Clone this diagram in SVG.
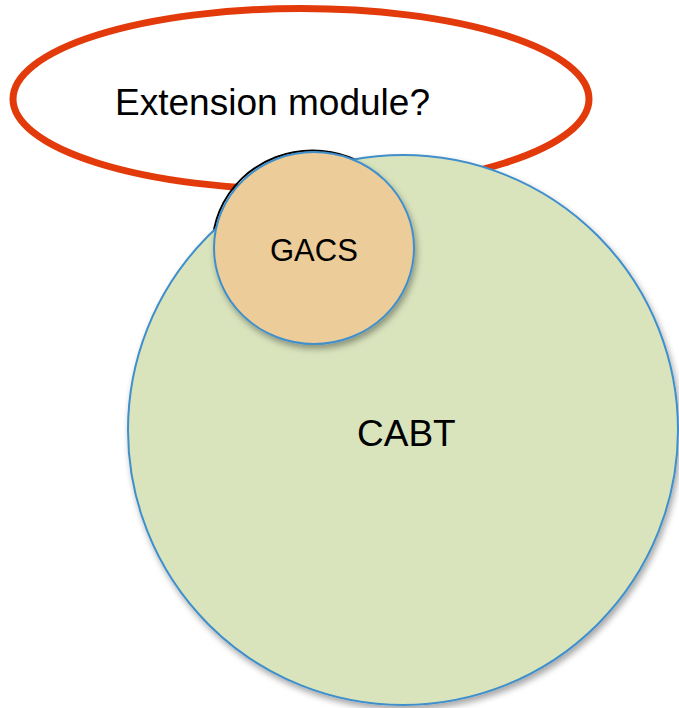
<svg xmlns="http://www.w3.org/2000/svg" width="679" height="708" viewBox="0 0 679 708">
<style>
.lbl{font-family:"Liberation Sans",Arial,sans-serif;fill:#000}
.blue{stroke:#3F8FCB;stroke-width:2}
</style>
<defs>
<filter id="sh" x="-10%" y="-10%" width="125%" height="125%">
<feDropShadow dx="2" dy="4" stdDeviation="3" flood-color="#000" flood-opacity="0.35"/>
</filter>
</defs>
<g id="extension">
<ellipse cx="301" cy="99" rx="288" ry="90.5" fill="#fff" stroke="#E23A0A" stroke-width="7"/>
<text class="lbl" x="115" y="115" font-size="37" textLength="315" lengthAdjust="spacingAndGlyphs">Extension module?</text>
</g>
<g id="gacs-outline">
<ellipse cx="312.5" cy="246.5" rx="100" ry="96" fill="none" stroke="#000" stroke-width="2"/>
</g>
<g id="cabt">
<circle cx="403" cy="430" r="275" fill="#D9E4BD" class="blue" filter="url(#sh)"/>
<text class="lbl" x="357" y="446" font-size="37">CABT</text>
</g>
<g id="gacs">
<ellipse cx="314" cy="248" rx="100" ry="96" fill="#ECCC98" class="blue" filter="url(#sh)"/>
<text class="lbl" x="270" y="261" font-size="31">GACS</text>
</g>
<g id="connectors"/>
</svg>
